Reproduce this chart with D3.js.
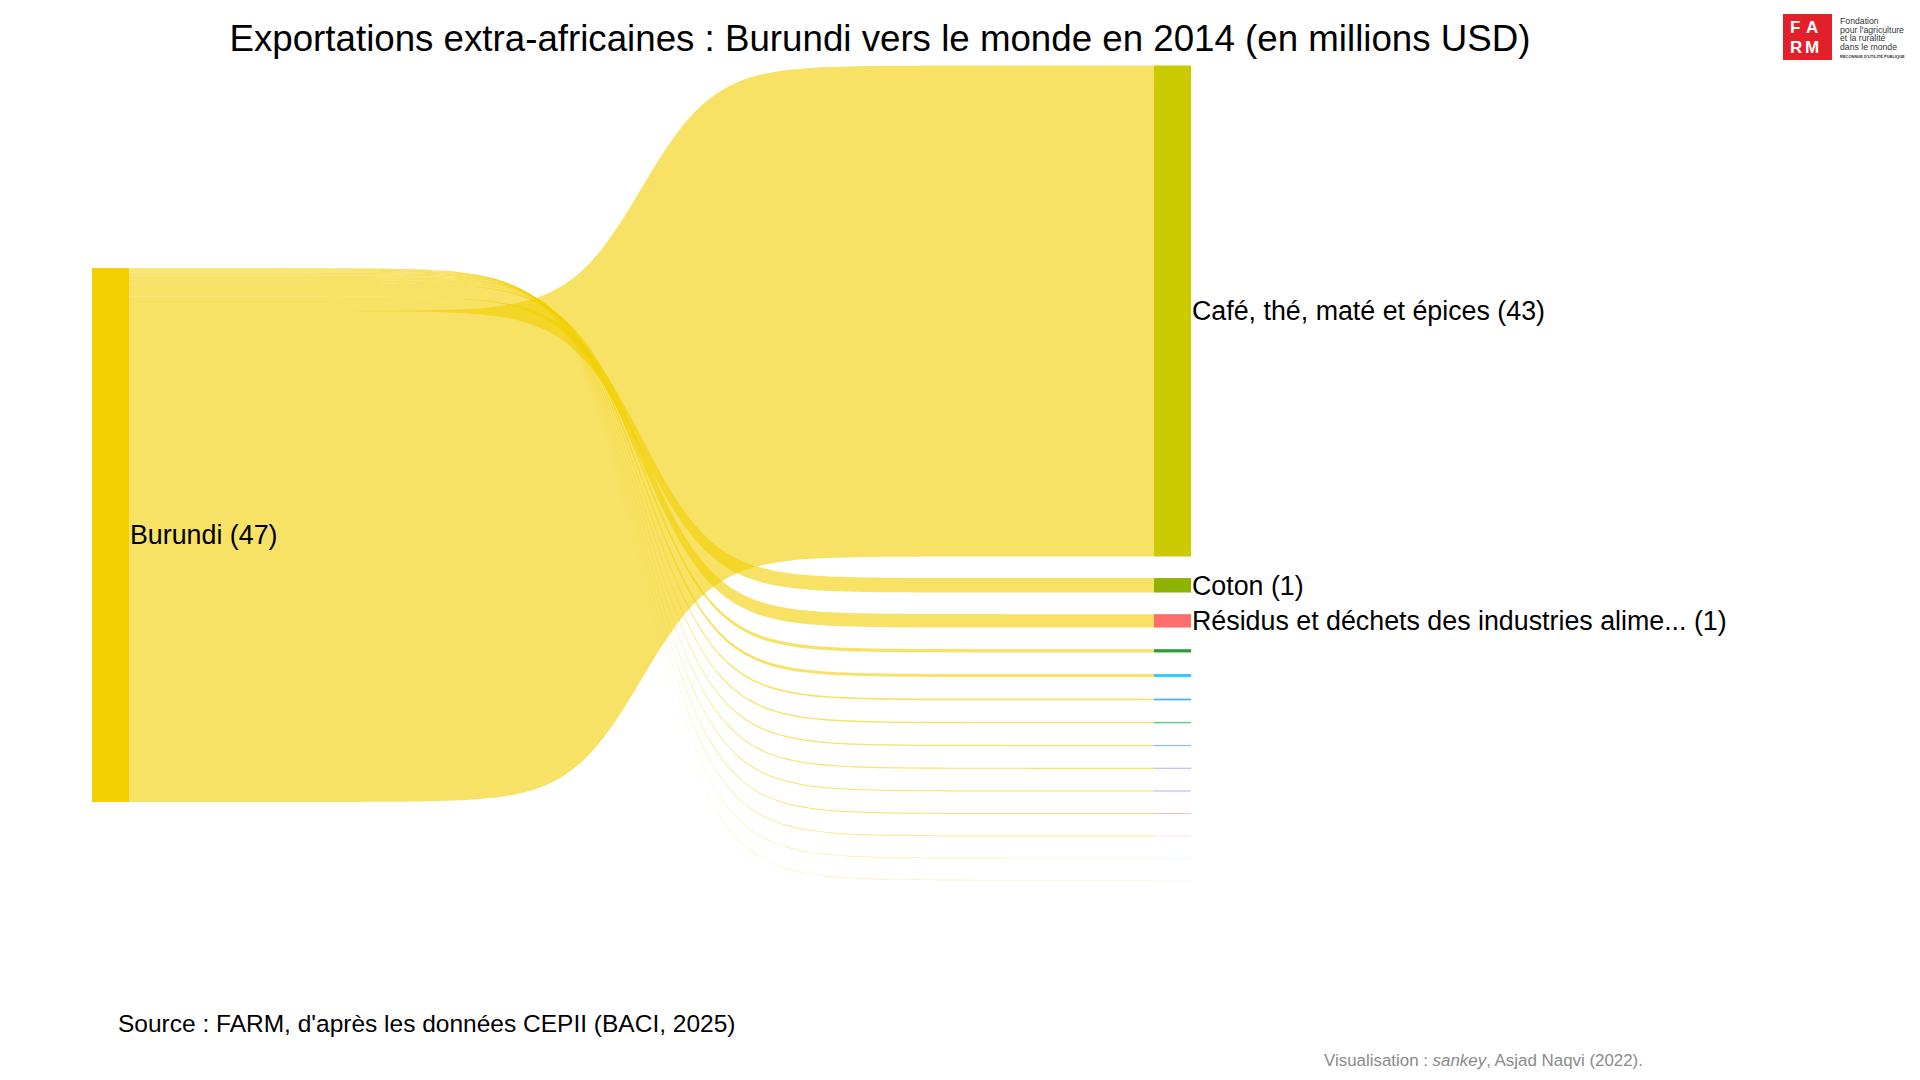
<!doctype html>
<html>
  <head>
    <meta charset="utf-8">
    <title>Exportations extra-africaines : Burundi</title>
    <script src="https://d3js.org/d3.v7.min.js"></script>
    <style type="text/css">
      body {
        margin: 0;
        background: #fff;
      }
      text {
        font-family: "Liberation Sans", Arial, sans-serif;
        fill: #000;
      }
    </style>
  </head>
  <body>
    <svg id="chart"></svg>
    <script type="text/javascript">
      var W = 1920,
        H = 1080;

      // donnees (millions USD)
      var sourceName = "Burundi";
      var categories = [
        "Café, thé, maté et épices",
        "Coton",
        "Résidus et déchets des industries alimentaires",
        "Plantes vivantes et produits de la floriculture",
        "Peaux et cuirs",
        "Légumes, plantes, racines et tubercules",
        "Fruits comestibles",
        "Graines et fruits oléagineux",
        "Préparations de céréales",
        "Boissons, liquides alcooliques et vinaigres",
        "Sucres et sucreries",
        "Préparations alimentaires diverses",
        "Tabacs",
        "Huiles essentielles"
      ];
      var values = [43.15, 1.27, 1.18, 0.29, 0.26, 0.15, 0.12, 0.11, 0.10, 0.09, 0.08, 0.06, 0.04, 0.03];
      var colors = ["#c9cb00", "#8db300", "#ff6e6e", "#2e9b3a", "#2ecdfc", "#3db1ff",
        "#5cc88a", "#8cbfff", "#bdb8ff", "#a0b8ff", "#ffb3b3", "#ffd6ea", "#c8f2ec", "#ffeec8"];
      var sourceColor = "#f2cf00";

      var total = d3.sum(values);

      var svg = d3.select('#chart')
        .attr('width', W)
        .attr('height', H);

      // mise en page
      var nodeW = 37,
        srcX = 92,
        tgtX = 1154,
        srcTop = 268,
        tgtTop = 65.5,
        gap = 21.6;

      var hScale = d3.scaleLinear()
        .domain([0, total])
        .range([0, 534]);

      // noeuds cibles, empiles de haut en bas
      var targets = [];
      var yy = tgtTop;
      values.forEach(function(v, i) {
        targets.push({
          name: categories[i],
          value: v,
          color: colors[i],
          y0: yy,
          y1: yy + hScale(v)
        });
        yy += hScale(v) + gap;
      });

      // liens : ordre inverse au depart (les plus petits en haut)
      var sy = srcTop;
      for (var i = targets.length - 1; i >= 0; i--) {
        targets[i].sy0 = sy;
        targets[i].sy1 = sy + hScale(targets[i].value);
        sy = targets[i].sy1;
      }

      // courbe sigmoide entre les deux colonnes
      var steep = 28;
      function sig(t) {
        return 1 / (1 + Math.exp(-steep * (t - 0.5)));
      }
      var s0 = sig(0),
        s1 = sig(1);
      function g(t) {
        return (sig(t) - s0) / (s1 - s0);
      }
      var tScale = d3.scaleLinear().domain([0, 1]).range([srcX + nodeW, tgtX]);
      var ts = d3.range(0, 1.0001, 1 / 120);

      var area = d3.area()
        .x(function(p) { return tScale(p.t); })
        .y0(function(p) { return p.a; })
        .y1(function(p) { return p.b; });

      svg.append('g')
        .selectAll('path')
        .data(targets)
        .enter()
        .append('path')
        .attr('d', function(d) {
          return area(ts.map(function(t) {
            return {
              t: t,
              a: d.sy0 + (d.y0 - d.sy0) * g(t),
              b: d.sy1 + (d.y1 - d.sy1) * g(t)
            };
          }));
        })
        .attr('fill', sourceColor)
        .attr('fill-opacity', 0.6);

      // noeud source
      svg.append('rect')
        .attr('x', srcX)
        .attr('y', srcTop)
        .attr('width', nodeW)
        .attr('height', hScale(total))
        .attr('fill', sourceColor);

      svg.append('text')
        .attr('x', srcX + nodeW + 1)
        .attr('y', srcTop + hScale(total) / 2)
        .attr('dy', '0.35em')
        .style('font-size', '26.8px')
        .text(sourceName + ' (' + Math.round(total) + ')');

      // noeuds cibles
      svg.append('g')
        .selectAll('rect')
        .data(targets)
        .enter()
        .append('rect')
        .attr('x', tgtX)
        .attr('y', function(d) { return d.y0; })
        .attr('width', nodeW)
        .attr('height', function(d) { return d.y1 - d.y0; })
        .attr('fill', function(d) { return d.color; });

      function shortName(s) {
        return s.length > 39 ? s.slice(0, 39) + '...' : s;
      }

      svg.append('g')
        .selectAll('text')
        .data(targets.filter(function(d) { return Math.round(d.value) >= 1; }))
        .enter()
        .append('text')
        .attr('x', tgtX + nodeW + 1)
        .attr('y', function(d) { return (d.y0 + d.y1) / 2; })
        .attr('dy', '0.35em')
        .style('font-size', '26.8px')
        .text(function(d) { return shortName(d.name) + ' (' + Math.round(d.value) + ')'; });

      // titre et notes
      svg.append('text')
        .attr('x', 880)
        .attr('y', 51)
        .attr('text-anchor', 'middle')
        .style('font-size', '36.7px')
        .text('Exportations extra-africaines : Burundi vers le monde en 2014 (en millions USD)');

      svg.append('text')
        .attr('x', 118)
        .attr('y', 1032)
        .style('font-size', '24.5px')
        .text("Source : FARM, d'après les données CEPII (BACI, 2025)");

      var credit = svg.append('text')
        .attr('x', 1324)
        .attr('y', 1066)
        .style('font-size', '16.9px')
        .style('fill', '#8a8a8a');
      credit.append('tspan').style('fill', '#8a8a8a').text('Visualisation : ');
      credit.append('tspan').style('fill', '#8a8a8a').style('font-style', 'italic').text('sankey');
      credit.append('tspan').style('fill', '#8a8a8a').text(', Asjad Naqvi (2022).');

      // logo FARM
      var logo = svg.append('g');
      logo.append('rect')
        .attr('x', 1783)
        .attr('y', 14)
        .attr('width', 49)
        .attr('height', 46)
        .attr('fill', '#e3202a');
      [['F', 1790, 33], ['A', 1806, 33], ['R', 1790, 53], ['M', 1805, 53]].forEach(function(l) {
        logo.append('text')
          .attr('x', l[1])
          .attr('y', l[2])
          .style('font-size', '17px')
          .style('font-weight', 'bold')
          .style('fill', '#fff')
          .text(l[0]);
      });
      var lines = ['Fondation', "pour l'agriculture", 'et la ruralité', 'dans le monde'];
      lines.forEach(function(s, i) {
        logo.append('text')
          .attr('x', 1840)
          .attr('y', 24 + i * 8.5)
          .style('font-size', '8.7px')
          .style('fill', '#333')
          .text(s);
      });
      logo.append('text')
        .attr('x', 1840)
        .attr('y', 58)
        .style('font-size', '4px')
        .style('font-weight', 'bold')
        .style('fill', '#333')
        .text("RECONNUE D'UTILITÉ PUBLIQUE");
    </script>
  </body>
</html>
